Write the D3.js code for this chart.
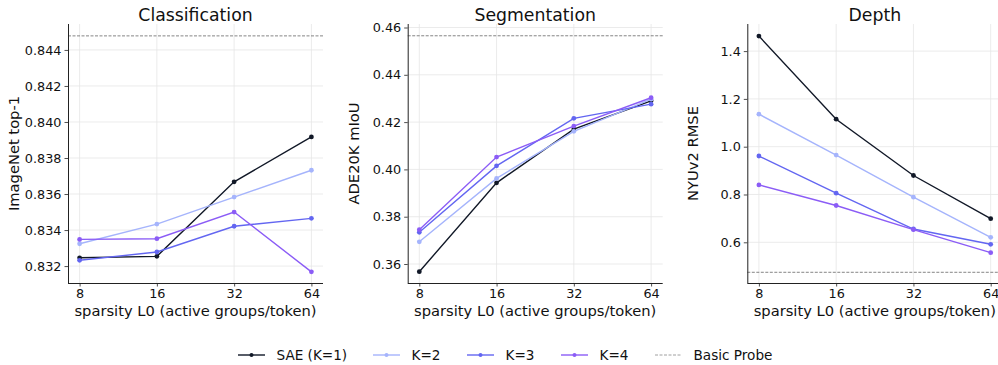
<!DOCTYPE html>
<html>
<head>
<meta charset="utf-8">
<script src="https://cdn.jsdelivr.net/npm/d3@7"></script>
<style>
  html, body { margin: 0; padding: 0; background: #fff; }
  svg { display: block; font-family: "DejaVu Sans", sans-serif; }
</style>
</head>
<body>
<svg id="chart" width="998" height="365"></svg>
<script>
// Sparsity levels (active groups per token)
const sparsity = [8, 16, 32, 64];

// Series definitions
const seriesNames = ["SAE (K=1)", "K=2", "K=3", "K=4"];
const seriesColors = ["#111827", "#a5b4fc", "#6366f1", "#8b5cf6"];

// Classification: ImageNet top-1
const clsSAE = [0.83246, 0.83254, 0.83668, 0.83917];
const clsK2  = [0.83324, 0.83433, 0.83583, 0.83732];
const clsK3  = [0.83232, 0.83278, 0.83421, 0.83465];
const clsK4  = [0.83348, 0.83352, 0.83500, 0.83168];
const clsProbe = 0.84478;
const clsTicks = [0.832, 0.834, 0.836, 0.838, 0.840, 0.842, 0.844];

// Segmentation: ADE20K mIoU
const segSAE = [0.35675, 0.39433, 0.41704, 0.42900];
const segK2  = [0.36940, 0.39620, 0.41610, 0.42970];
const segK3  = [0.37340, 0.40150, 0.42160, 0.42760];
const segK4  = [0.37450, 0.40520, 0.41830, 0.43030];
const segProbe = 0.4565;
const segTicks = [0.36, 0.38, 0.40, 0.42, 0.44, 0.46];

// Depth: NYUv2 RMSE
const depSAE = [1.4628, 1.1150, 0.8795, 0.6988];
const depK2  = [1.1360, 0.9650, 0.7890, 0.6210];
const depK3  = [0.9610, 0.8055, 0.6556, 0.5916];
const depK4  = [0.8400, 0.7540, 0.6527, 0.5565];
const depProbe = 0.4745;
const depTicks = [0.6, 0.8, 1.0, 1.2, 1.4];

const panels = [
  { title: "Classification", ylabel: "ImageNet top-1", series: [clsSAE, clsK2, clsK3, clsK4],
    probe: clsProbe, ticks: clsTicks, fmt: d3.format(".3f"), ydom: [0.83106, 0.84544], left: 68 },
  { title: "Segmentation", ylabel: "ADE20K mIoU", series: [segSAE, segK2, segK3, segK4],
    probe: segProbe, ticks: segTicks, fmt: d3.format(".2f"), ydom: [0.35197, 0.46148], left: 407.7 },
  { title: "Depth", ylabel: "NYUv2 RMSE", series: [depSAE, depK2, depK3, depK4],
    probe: depProbe, ticks: depTicks, fmt: d3.format(".1f"), ydom: [0.4297, 1.5134], left: 747.3 }
];

const svg = d3.select("#chart");
const plotTop = 24, plotBottom = 283, pw = 255;
const tickFont = 12.8, labelFont = 14.7, titleFont = 17.3;
const gridColor = "#e6e6e6";

panels.forEach(p => {
  const x = d3.scaleLog().base(2).domain([8, 64]).range([p.left + 11.6, p.left + pw - 11.6]);
  const y = d3.scaleLinear().domain(p.ydom).range([plotBottom, plotTop]);
  const g = svg.append("g");

  // grid
  g.append("g").selectAll("line").data(sparsity).join("line")
    .attr("x1", d => x(d)).attr("x2", d => x(d)).attr("y1", plotTop).attr("y2", plotBottom)
    .attr("stroke", gridColor).attr("stroke-width", 0.8);
  g.append("g").selectAll("line").data(p.ticks).join("line")
    .attr("x1", p.left).attr("x2", p.left + pw).attr("y1", d => y(d)).attr("y2", d => y(d))
    .attr("stroke", gridColor).attr("stroke-width", 0.8);

  // basic probe reference
  g.append("line")
    .attr("x1", p.left).attr("x2", p.left + pw)
    .attr("y1", y(p.probe)).attr("y2", y(p.probe))
    .attr("stroke", "#666").attr("stroke-width", 0.8).attr("stroke-dasharray", "3,1.5");

  // axes
  const xAxis = d3.axisBottom(x).tickValues(sparsity).tickFormat(d3.format("d")).tickSize(3.5).tickPadding(2.5);
  const yAxis = d3.axisLeft(y).tickValues(p.ticks).tickFormat(p.fmt).tickSize(3.5).tickPadding(3);
  const gx = g.append("g").attr("transform", `translate(0,${plotBottom})`).call(xAxis);
  gx.select(".domain").attr("d", `M${p.left},0.5H${p.left + pw}`);
  const gy = g.append("g").attr("transform", `translate(${p.left},0)`).call(yAxis);
  gy.select(".domain").attr("d", `M0.5,${plotTop}V${plotBottom}`);
  [gx, gy].forEach(a => {
    a.select(".domain").attr("stroke", "#222").attr("stroke-width", 1);
    a.selectAll(".tick line").attr("stroke", "#222").attr("stroke-width", 0.8);
    a.selectAll(".tick text").attr("font-size", tickFont).attr("fill", "#111")
      .attr("font-family", "DejaVu Sans, sans-serif");
  });

  // series lines and markers
  p.series.forEach((vals, i) => {
    const pts = sparsity.map((s, j) => [s, vals[j]]);
    g.append("path").datum(pts)
      .attr("fill", "none").attr("stroke", seriesColors[i]).attr("stroke-width", 1.4)
      .attr("d", d3.line().x(d => x(d[0])).y(d => y(d[1])));
    g.append("g").selectAll("circle").data(pts).join("circle")
      .attr("cx", d => x(d[0])).attr("cy", d => y(d[1])).attr("r", 2.4)
      .attr("fill", seriesColors[i]);
  });

  // title and labels
  g.append("text").attr("x", p.left + pw / 2).attr("y", 21).attr("text-anchor", "middle")
    .attr("font-size", titleFont).attr("fill", "#111").text(p.title);
  g.append("text").attr("x", p.left + pw / 2).attr("y", 315.5).attr("text-anchor", "middle")
    .attr("font-size", labelFont).attr("fill", "#111").text("sparsity L0 (active groups/token)");
  g.append("text")
    .attr("transform", `translate(${p.left - 49},${(plotTop + plotBottom) / 2}) rotate(-90)`)
    .attr("text-anchor", "middle").attr("font-size", labelFont).attr("fill", "#111").text(p.ylabel);
});

// legend
const legendItems = seriesNames.map((n, i) => ({ name: n, color: seriesColors[i], dash: null, marker: true }))
  .concat([{ name: "Basic Probe", color: "#888", dash: "3,1.5", marker: false }]);
const legendX = [238, 373, 467, 561, 655];
const ly = 355;
legendItems.forEach((it, i) => {
  const lg = svg.append("g").attr("transform", `translate(${legendX[i]},${ly})`);
  lg.append("line").attr("x1", 0).attr("x2", 27).attr("y1", 0).attr("y2", 0)
    .attr("stroke", it.color).attr("stroke-width", it.marker ? 1.4 : 0.8)
    .attr("stroke-dasharray", it.dash);
  if (it.marker) lg.append("circle").attr("cx", 13.5).attr("cy", 0).attr("r", 2).attr("fill", it.color);
  lg.append("text").attr("x", 38.5).attr("y", 4.8).attr("font-size", 13.6).attr("fill", "#111").text(it.name);
});
</script>
</body>
</html>
